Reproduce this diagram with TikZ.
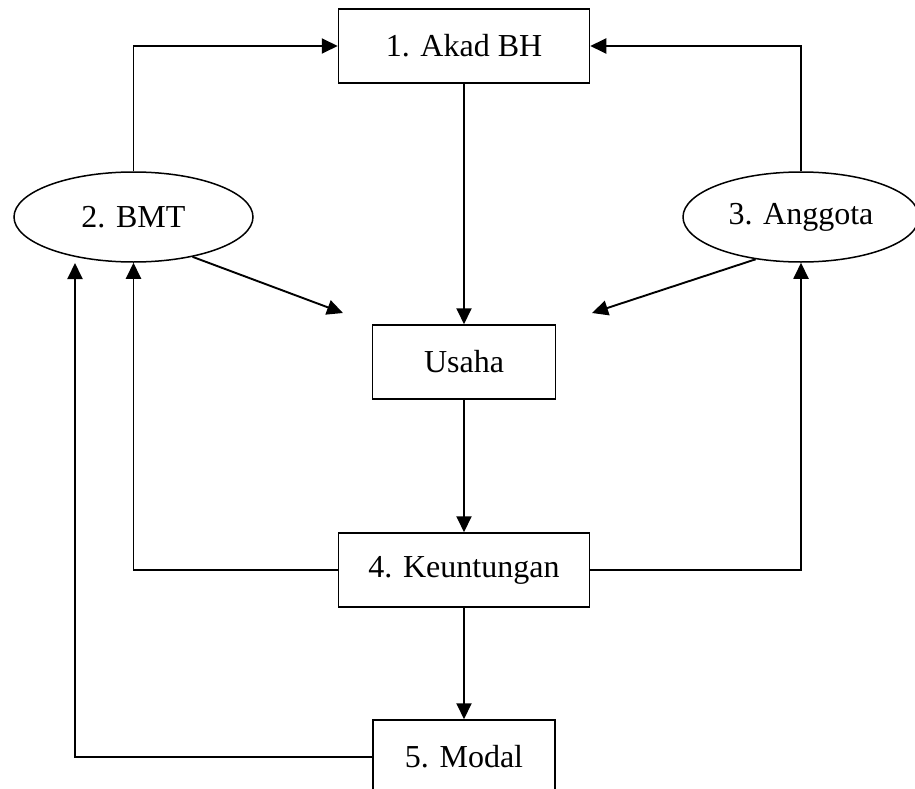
\documentclass[tikz,border=0pt]{standalone}
\usepackage{fontspec}
\setmainfont{Liberation Serif}
\usetikzlibrary{arrows.meta,shapes.geometric}
\begin{document}
\begin{tikzpicture}[x=1pt,y=-1pt,
  box/.style={draw,line width=1.5pt,rectangle,inner sep=0pt,minimum height=74pt,font=\fontsize{32}{38}\selectfont},
  oval/.style={draw,line width=1.5pt,ellipse,inner sep=0pt,minimum height=90pt,font=\fontsize{32}{38}\selectfont},
  arr/.style={line width=1.9pt,-{Triangle[length=16pt,width=15pt]}}]
\useasboundingbox (0,0) rectangle (915,789);
\begin{scope}
\clip (0,0) rectangle (915,789);
\node[box,minimum width=251pt] (akad) at (464,46) {1. Akad BH};
\node[box,minimum width=183pt] (usaha) at (464,362) {Usaha};
\node[box,minimum width=251pt] (keu) at (464,570) {4. Keuntungan};
\node[box,minimum width=182pt] (modal) at (464,757) {5. Modal};
\node[oval,minimum width=239pt] (bmt) at (133.5,217) {2. BMT};
\node[oval,minimum width=236pt] (ang) at (801,217) {3. Anggota};
\coordinate (c1) at (75,263);
\coordinate (c2) at (343,313);
\coordinate (c3) at (592,313);
\draw[arr] (bmt.north) |- (akad.west);
\draw[arr] (ang.north) |- (akad.east);
\draw[arr] (akad.south) -- (usaha.north);
\draw[arr] (usaha.south) -- (keu.north);
\draw[arr] (keu.south) -- (modal.north);
\draw[arr] (keu.west) -| (bmt.south);
\draw[arr] (keu.east) -| (ang.south);
\draw[arr] (modal.west) -| (c1);
\draw[arr] (bmt.-34) -- (c2);
\draw[arr] (ang.-137) -- (c3);
\end{scope}
\end{tikzpicture}
\end{document}
